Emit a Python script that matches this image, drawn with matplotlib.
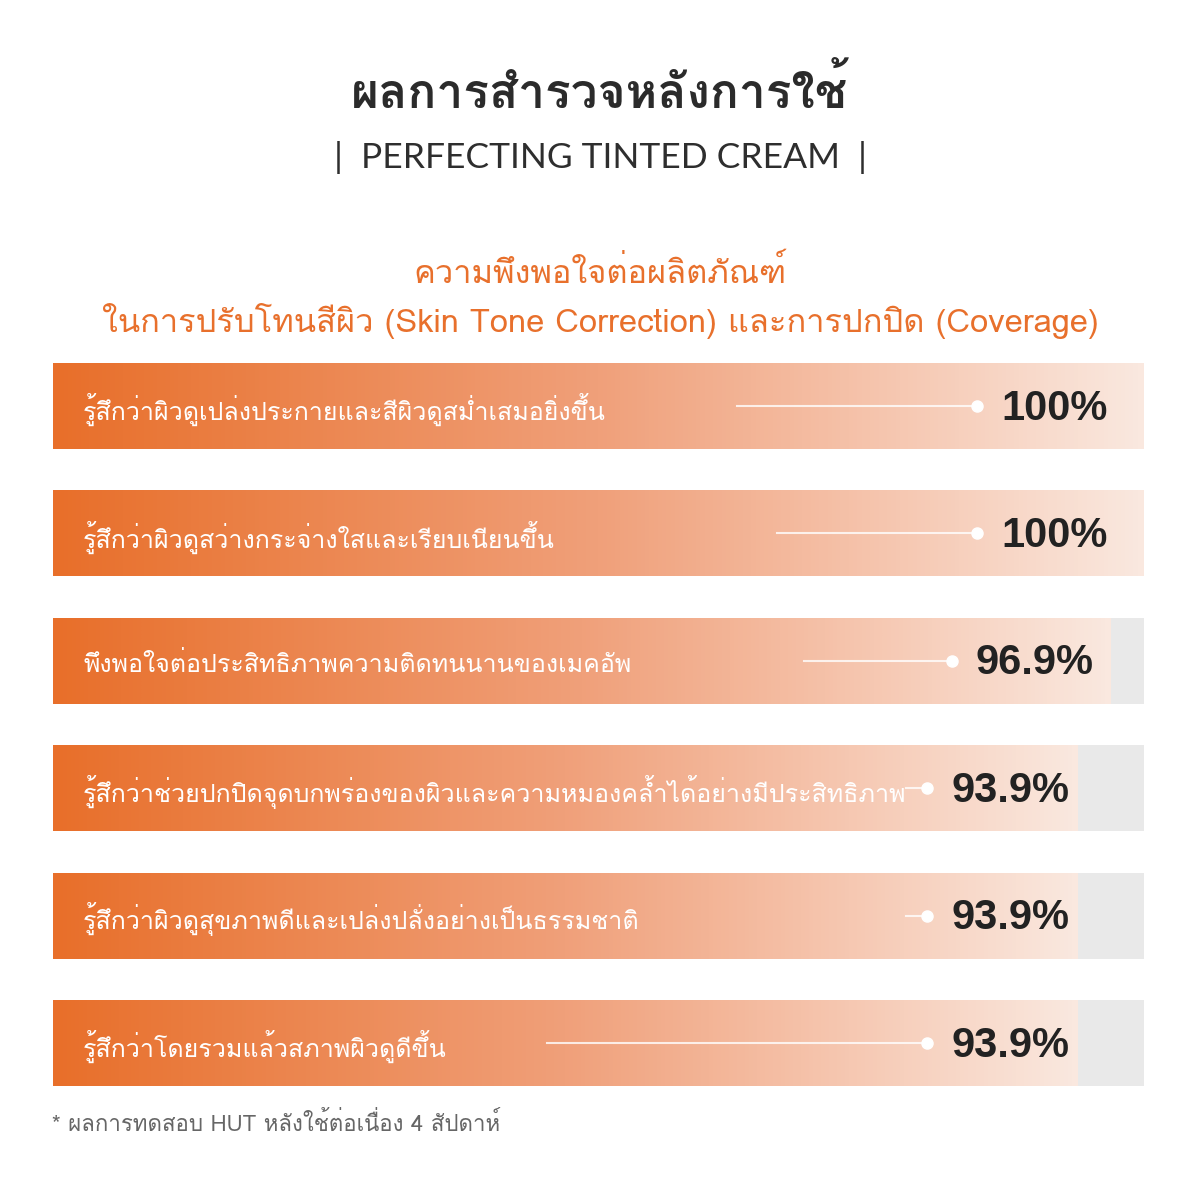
import matplotlib
matplotlib.use("Agg")
import matplotlib.pyplot as plt
import numpy as np
from matplotlib import font_manager, ft2font
from matplotlib.colors import LinearSegmentedColormap

# data
labels = [
    "รู้สึกว่าผิวดูเปล่งประกายและสีผิวดูสม่ำเสมอยิ่งขึ้น",
    "รู้สึกว่าผิวดูสว่างกระจ่างใสและเรียบเนียนขึ้น",
    "พึงพอใจต่อประสิทธิภาพความติดทนนานของเมคอัพ",
    "รู้สึกว่าช่วยปกปิดจุดบกพร่องของผิวและความหมองคล้ำได้อย่างมีประสิทธิภาพ",
    "รู้สึกว่าผิวดูสุขภาพดีและเปล่งปลั่งอย่างเป็นธรรมชาติ",
    "รู้สึกว่าโดยรวมแล้วสภาพผิวดูดีขึ้น",
]
values = [100, 100, 96.9, 93.9, 93.9, 93.9]
value_labels = ["100%", "100%", "96.9%", "93.9%", "93.9%", "93.9%"]

title = "ผลการสำรวจหลังการใช้"
product = "|  PERFECTING TINTED CREAM  |"
subtitle1 = "ความพึงพอใจต่อผลิตภัณฑ์"
subtitle2 = "ในการปรับโทนสีผิว (Skin Tone Correction) และการปกปิด (Coverage)"
footnote = "* ผลการทดสอบ HUT หลังใช้ต่อเนื่อง 4 สัปดาห์"

# find a font that has Thai glyphs
thai_family = None
for f in font_manager.fontManager.ttflist:
    try:
        if 0x0E01 in ft2font.FT2Font(f.fname).get_charmap():
            thai_family = f.name
            break
    except Exception:
        pass
fams = ([thai_family] if thai_family else []) + ["DejaVu Sans"]
plt.rcParams["font.family"] = fams

W, H = 1200, 1178
fig = plt.figure(figsize=(W / 100, H / 100), dpi=100)
fig.patch.set_facecolor("white")

# header texts
fig.text(0.5, 1 - 92 / H, title, ha="center", va="center", fontsize=34.5,
         color="#2b2b2b", fontweight="bold")
fig.text(0.5, 1 - 158 / H, product, ha="center", va="center", fontsize=25.5,
         color="#2e2e2e", family=["Lato", "DejaVu Sans"])
fig.text(0.5, 1 - 273 / H, subtitle1, ha="center", va="center", fontsize=23.5, color="#E8702C")
fig.text(0.5, 1 - 321 / H, subtitle2, ha="center", va="center", fontsize=23.5, color="#E8702C")
fig.text(52 / W, 1 - 1124 / H, footnote, ha="left", va="center", fontsize=16, color="#666666")

# bar area
x0, x1, ytop, ybot = 53, 1144, 363, 1086
ax = fig.add_axes([x0 / W, 1 - ybot / H, (x1 - x0) / W, (ybot - ytop) / H])
bh = 0.675
n = len(values)
ypos = np.arange(n)

ax.barh(ypos, [100] * n, height=bh, color="#E9E9E9", zorder=1)

cmap = LinearSegmentedColormap.from_list(
    "warm", [(0, "#E86F2A"), (0.5, "#F0A07A"), (0.78, "#F6C8B2"), (1, "#FAE8DF")])
grad = np.linspace(0, 1, 256).reshape(1, -1)
for i, v in enumerate(values):
    ax.imshow(grad, cmap=cmap, aspect="auto", extent=(0, v, i + bh / 2, i - bh / 2),
              zorder=2, interpolation="bilinear")

leader_start = [62.7, 66.4, 68.8, 78.2, 78.2, 45.3]
for i, (lab, v, vl) in enumerate(zip(labels, values, value_labels)):
    ax.text(2.75, i + 0.03, lab, ha="left", va="center", fontsize=18, color="white", zorder=4)
    dot = v - 14.5 - (v - 96.9) * 0.25
    ax.plot([leader_start[i], dot], [i, i], color="white", lw=1.5, alpha=0.8, zorder=3)
    ax.plot(dot, i, "o", color="white", ms=8, zorder=3)
    ax.text(dot + 2.2, i + 0.02, vl, ha="left", va="center", fontsize=30,
            color="#222222", family=["Liberation Sans", "DejaVu Sans"], fontweight="bold", zorder=4)

ax.set_xlim(0, 100)
ax.set_ylim(n - 1 + bh / 2, -bh / 2)
ax.axis("off")

fig.savefig("out.png", dpi=100, facecolor="white")
